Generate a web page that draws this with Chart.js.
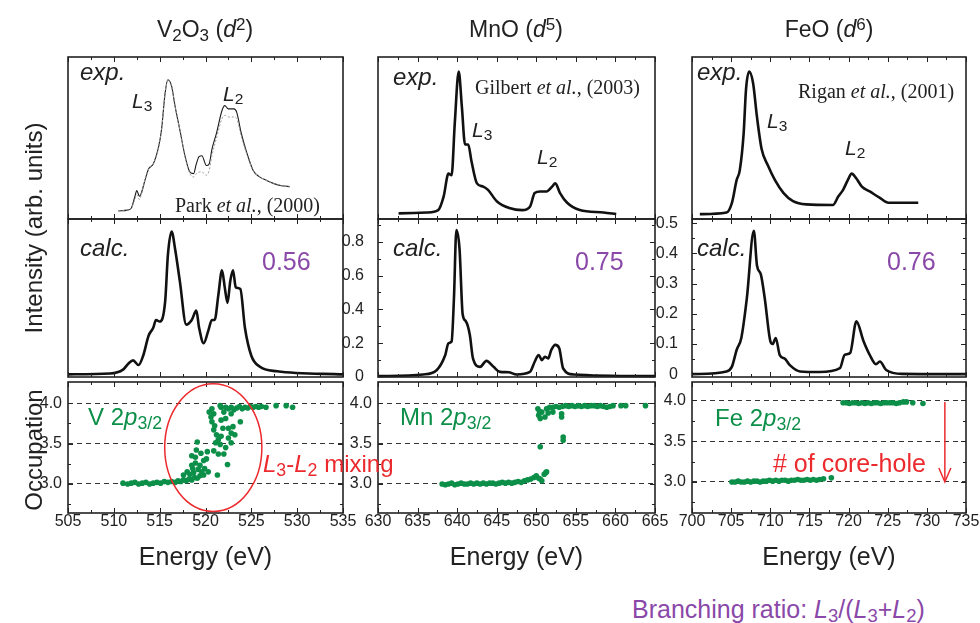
<!DOCTYPE html>
<html>
<head>
<meta charset="utf-8">
<title>L-edge XAS: V2O3, MnO, FeO</title>
<script src="https://cdn.jsdelivr.net/npm/chart.js@4.4.0/dist/chart.umd.min.js"></script>
<style>
  body { margin: 0; background: #fff; }
  #stage { position: relative; width: 980px; height: 623px; overflow: hidden;
           font-family: "Liberation Sans", Arial, sans-serif; color: #222; }
  #stage canvas { position: absolute; }
  .lbl { position: absolute; white-space: nowrap; line-height: 1; }
  .lbl sub, .lbl sup { font-size: 74%; line-height: 0; }
  .lbl sub { vertical-align: -0.22em; }
  .lbl sup { vertical-align: 0.42em; }
  .ref { font-family: "Liberation Serif", "Times New Roman", serif; }
</style>
</head>
<body>
<div id="stage"></div>
<script>
// ---- data ----

// V2O3 experiment (Park et al.), arbitrary units
const v2o3ExpE = [510.5, 511.5, 511.9, 512.3, 512.5, 512.8, 513.0, 513.4, 513.8, 514.3, 514.9, 515.2, 515.6, 515.9, 516.3, 516.7, 517.2, 517.8, 518.3, 518.7, 519.0, 519.3, 519.6, 520.1, 520.4, 520.7, 521.2, 521.8, 522.1, 522.5, 522.9, 523.1, 523.4, 523.9, 524.5, 525.2, 525.9, 526.6, 527.4, 528.3, 529.2];
const v2o3ExpI = [0.05, 0.055, 0.066, 0.14, 0.175, 0.14, 0.16, 0.24, 0.31, 0.34, 0.45, 0.55, 0.78, 0.86, 0.82, 0.69, 0.55, 0.38, 0.29, 0.28, 0.34, 0.385, 0.39, 0.33, 0.34, 0.43, 0.53, 0.67, 0.70, 0.68, 0.68, 0.68, 0.66, 0.53, 0.41, 0.30, 0.26, 0.24, 0.22, 0.205, 0.20];
const v2o3ExpI2 = [0.05, 0.055, 0.066, 0.12, 0.15, 0.12, 0.15, 0.24, 0.31, 0.34, 0.45, 0.55, 0.78, 0.86, 0.82, 0.69, 0.55, 0.38, 0.28, 0.26, 0.28, 0.29, 0.29, 0.27, 0.30, 0.39, 0.50, 0.62, 0.64, 0.63, 0.63, 0.63, 0.62, 0.51, 0.40, 0.30, 0.26, 0.24, 0.22, 0.205, 0.20];
// V2O3 calculation
const v2o3CalcE = [505.0, 509.6, 511.0, 511.6, 512.1, 512.7, 513.2, 513.8, 514.3, 514.6, 515.0, 515.6, 515.9, 516.3, 516.7, 517.2, 517.9, 518.5, 519.0, 519.3, 519.8, 520.3, 520.7, 521.0, 521.4, 521.8, 522.1, 522.4, 522.7, 523.0, 523.3, 523.8, 524.3, 525.0, 525.9, 527.8, 535.0];
const v2o3CalcI = [0, 0.005, 0.03, 0.07, 0.09, 0.06, 0.12, 0.25, 0.30, 0.35, 0.34, 0.47, 0.77, 0.92, 0.80, 0.60, 0.32, 0.35, 0.41, 0.30, 0.20, 0.28, 0.35, 0.35, 0.51, 0.67, 0.56, 0.46, 0.60, 0.67, 0.56, 0.55, 0.30, 0.12, 0.05, 0.02, 0];
// V 2p3/2 occupation
const v2o3OccE = [511.0, 511.5, 511.9, 512.3, 512.7, 513.1, 513.5, 513.9, 514.3, 514.7, 515.1, 515.5, 515.9, 516.3, 516.7, 517.0, 517.3, 517.6, 517.9, 518.2, 518.5, 518.8, 519.1, 519.4,
  517.6, 518.0, 518.3, 518.7, 519.2, 519.6, 518.9, 518.5, 518.6, 518.9, 518.5, 519.0, 519.1, 519.4, 519.8, 519.9, 520.1, 520.3, 519.8, 521.3, 519.5, 520.2,
  520.4, 520.7, 520.9, 520.7, 520.9, 521.2, 521.4, 521.1, 521.6, 520.9, 521.4, 521.7, 521.9, 521.7, 522.0, 522.2, 522.5, 522.5, 522.4, 522.0, 522.8, 523.0, 523.2, 522.8, 521.7, 521.6, 522.8, 523.8, 520.6, 521.0, 522.2,
  522.2, 522.5, 522.8, 523.1, 523.4, 523.7, 524.0, 524.3, 524.6, 524.9, 525.2, 525.5, 525.8, 526.1, 526.6, 527.7, 528.8, 529.5];
const v2o3OccN = [3.01, 3.00, 3.01, 3.02, 3.00, 3.01, 3.02, 3.00, 3.01, 3.02, 3.01, 3.03, 3.02, 3.03, 3.02, 3.04, 3.03, 3.05, 3.04, 3.06, 3.05, 3.08, 3.07, 3.10,
  3.11, 3.15, 3.12, 3.14, 3.18, 3.15, 3.26, 3.23, 3.19, 3.33, 3.35, 3.42, 3.52, 3.23, 3.29, 3.19, 3.31, 3.15, 3.11, 3.11, 3.38, 3.40,
  3.89, 3.93, 3.87, 3.77, 3.67, 3.61, 3.55, 3.51, 3.49, 3.41, 3.37, 3.59, 3.69, 3.79, 3.89, 3.81, 3.69, 3.57, 3.24, 3.37, 3.63, 3.71, 3.61, 3.51, 3.95, 3.97, 3.87, 3.77, 3.83, 3.72, 3.45,
  3.95, 3.93, 3.95, 3.92, 3.94, 3.96, 3.93, 3.95, 3.94, 3.96, 3.95, 3.96, 3.95, 3.96, 3.95, 3.97, 3.97, 3.95];

// MnO experiment (Gilbert et al.)
const mnoExpE = [632.6, 636.2, 637.6, 638.3, 638.9, 639.3, 639.7, 640.2, 640.6, 641.0, 641.4, 641.8, 642.5, 643.3, 643.9, 645.0, 646.7, 648.2, 649.2, 649.8, 650.5, 651.3, 652.0, 652.4, 653.0, 653.9, 655.5, 658.5, 660.1];
const mnoExpI = [0.035, 0.04, 0.055, 0.14, 0.28, 0.27, 0.59, 0.91, 0.69, 0.46, 0.46, 0.36, 0.22, 0.20, 0.18, 0.11, 0.066, 0.055, 0.076, 0.16, 0.17, 0.17, 0.20, 0.22, 0.16, 0.10, 0.055, 0.04, 0.03];
// MnO calculation
const mnoCalcE = [630.0, 635.7, 637.4, 638.5, 638.9, 639.3, 639.6, 639.9, 640.3, 640.7, 641.1, 641.6, 642.0, 642.9, 643.7, 644.6, 645.4, 646.5, 647.5, 649.2, 649.8, 650.3, 650.7, 651.1, 651.5, 651.9, 652.4, 652.9, 653.4, 654.7, 665.0];
const mnoCalcI = [0.005, 0.015, 0.04, 0.13, 0.20, 0.21, 0.47, 0.87, 0.76, 0.37, 0.33, 0.25, 0.11, 0.06, 0.095, 0.06, 0.03, 0.028, 0.015, 0.03, 0.09, 0.13, 0.10, 0.12, 0.11, 0.16, 0.19, 0.17, 0.05, 0.015, 0.005];
// Mn 2p3/2 occupation
const mnoOccE = [638.1, 638.5, 638.9, 639.3, 639.7, 640.1, 640.5, 640.9, 641.3, 641.7, 642.1, 642.5, 642.9, 643.3, 643.7, 644.1, 644.5, 644.9, 645.3, 645.7, 646.1, 646.5, 646.9, 647.3, 647.7, 648.1, 648.5, 648.9, 649.3, 649.7, 650.0, 650.3, 650.5, 650.7, 651.0, 651.2, 651.3,
  650.5, 650.2, 650.3, 650.5, 650.7, 651.1, 651.3, 651.7, 652.1, 653.2, 653.2, 653.4, 653.4, 650.4, 651.5,
  652.1, 652.5, 652.9, 653.3, 653.7, 654.1, 654.5, 654.9, 655.3, 655.7, 656.1, 656.5, 656.9, 657.3, 657.7, 658.1, 658.5, 658.9, 659.3, 659.7, 660.7, 661.3, 663.8];
const mnoOccN = [3.00, 2.99, 3.00, 3.01, 2.99, 3.00, 3.01, 3.00, 3.00, 3.01, 3.00, 3.01, 3.00, 3.01, 3.00, 3.01, 3.01, 3.00, 3.01, 3.02, 3.01, 3.02, 3.01, 3.02, 3.03, 3.02, 3.04, 3.05, 3.06, 3.08, 3.10, 3.07, 3.06, 3.04, 3.12, 3.14, 3.15,
  3.46, 3.93, 3.85, 3.81, 3.89, 3.83, 3.93, 3.95, 3.89, 3.87, 3.83, 3.58, 3.54, 3.90, 3.88,
  3.95, 3.96, 3.95, 3.96, 3.97, 3.96, 3.97, 3.96, 3.97, 3.96, 3.97, 3.96, 3.97, 3.97, 3.96, 3.97, 3.96, 3.95, 3.96, 3.97, 3.97, 3.97, 3.97];

// FeO experiment (Rigan et al.)
const feoExpE = [701.0, 704.4, 705.1, 705.7, 706.1, 706.6, 706.9, 707.3, 707.8, 708.3, 708.9, 709.7, 710.6, 711.7, 712.9, 714.6, 718.0, 718.7, 719.3, 719.9, 720.4, 721.0, 721.7, 722.7, 724.0, 725.1, 726.6, 728.9];
const feoExpI = [0.03, 0.04, 0.10, 0.24, 0.30, 0.53, 0.80, 0.91, 0.84, 0.63, 0.43, 0.33, 0.24, 0.16, 0.11, 0.09, 0.086, 0.14, 0.18, 0.24, 0.28, 0.25, 0.20, 0.17, 0.13, 0.10, 0.10, 0.10];
// FeO calculation
const feoCalcE = [700.0, 704.4, 705.1, 705.7, 706.3, 707.0, 707.9, 708.3, 708.8, 709.3, 710.0, 710.3, 710.7, 711.2, 711.9, 712.5, 713.8, 716.3, 718.9, 719.5, 720.2, 721.0, 721.9, 722.7, 723.5, 724.0, 724.8, 726.9, 735.0];
const feoCalcI = [0, 0.009, 0.025, 0.08, 0.12, 0.25, 0.475, 0.36, 0.33, 0.25, 0.11, 0.10, 0.12, 0.064, 0.05, 0.03, 0.009, 0.007, 0.02, 0.064, 0.07, 0.175, 0.11, 0.064, 0.033, 0.042, 0.014, 0.001, 0];
// Fe 2p3/2 occupation
const feoOccE = [705.1, 705.5, 705.9, 706.3, 706.7, 707.1, 707.5, 707.9, 708.3, 708.7, 709.1, 709.5, 709.9, 710.3, 710.7, 711.1, 711.5, 711.9, 712.3, 712.7, 713.1, 713.5, 713.9, 714.3, 714.7, 715.1, 715.5, 715.9, 716.3, 716.8, 717.8,
  719.3, 719.7, 720.1, 720.5, 720.9, 721.3, 721.7, 722.1, 722.5, 722.9, 723.3, 723.7, 724.1, 724.5, 724.9, 725.3, 725.7, 726.1, 726.5, 727.0, 727.4, 728.2, 729.5];
const feoOccN = [3.00, 3.00, 3.01, 3.00, 3.00, 3.01, 3.00, 3.01, 3.01, 3.00, 3.01, 3.01, 3.02, 3.01, 3.02, 3.01, 3.02, 3.02, 3.01, 3.02, 3.02, 3.03, 3.02, 3.02, 3.03, 3.02, 3.03, 3.02, 3.03, 3.04, 3.05,
  3.97, 3.97, 3.96, 3.97, 3.97, 3.96, 3.97, 3.96, 3.97, 3.96, 3.97, 3.97, 3.96, 3.97, 3.97, 3.97, 3.97, 3.96, 3.97, 3.98, 3.98, 3.97, 3.96];

const ratios = ['0.56', '0.75', '0.76'];

// ---- look ----
const FONT = '"Liberation Sans", Arial, sans-serif';
const INK = '#222';
const GREEN = '#0c8f48';
const PURPLE = '#8a48a8';
const RED = '#ec2a2e';

Chart.defaults.font.family = FONT;
Chart.defaults.color = INK;

const AXIS_W = 50;   // width kept for the left tick labels
const PAD_R = 20;
const CANVAS_TOP = 37;
const CANVAS_H = 538;

const toXY = (xs, ys) => xs.map((x, i) => ({x: x, y: ys[i]}));

// draws the boxed panels, inward ticks and annotations
const panelFrame = {
  id: 'panelFrame',
  afterDraw(chart, args, opts) {
    const ctx = chart.ctx;
    const xs = chart.scales.x;
    const seg = (x1, y1, x2, y2) => { ctx.beginPath(); ctx.moveTo(x1, y1); ctx.lineTo(x2, y2); ctx.stroke(); };
    const isMajor = (v, step) => Math.abs(v / step - Math.round(v / step)) < 1e-6;
    ctx.save();
    ctx.strokeStyle = INK;
    opts.panels.forEach(p => {
      const s = chart.scales[p.id];
      const top = s.top + (p.insetTop || 0);
      const bottom = s.bottom - (p.insetBottom || 0);
      ctx.lineWidth = 1;
      for (let v = xs.min; v <= xs.max + 1e-9; v += 2.5) {
        const px = Math.round(xs.getPixelForValue(v)) + 0.5;
        const len = isMajor(v, 5) ? 5 : 3;
        seg(px, top, px, top + len);
        seg(px, bottom, px, bottom - len);
      }
      if (p.minor) {
        const start = Math.ceil(s.min / p.minor - 1e-9) * p.minor;
        for (let v = start; v <= s.max + 1e-9; v += p.minor) {
          const py = Math.round(s.getPixelForValue(v)) + 0.5;
          if (py < top + 2 || py > bottom - 2) continue;
          const len = isMajor(v, p.major) ? 5 : 3;
          seg(xs.left, py, xs.left + len, py);
          seg(xs.right, py, xs.right - len, py);
        }
      }
      ctx.lineWidth = 1.6;
      ctx.strokeRect(xs.left, top, xs.right - xs.left, bottom - top);
    });
    ctx.strokeStyle = RED;
    ctx.lineWidth = 1.5;
    (opts.ellipses || []).forEach(el => {
      const s = chart.scales[el.y];
      const cx = xs.getPixelForValue(el.cx), cy = s.getPixelForValue(el.cy);
      const rx = Math.abs(xs.getPixelForValue(el.cx + el.rx) - cx);
      const ry = Math.abs(s.getPixelForValue(el.cy + el.ry) - cy);
      ctx.beginPath();
      ctx.ellipse(cx, cy, rx, ry, 0, 0, Math.PI * 2);
      ctx.stroke();
    });
    (opts.arrows || []).forEach(a => {
      const s = chart.scales[a.y];
      const px = xs.getPixelForValue(a.x);
      const y1 = s.getPixelForValue(a.from), y2 = s.getPixelForValue(a.to);
      seg(px, y1, px, y2);
      ctx.beginPath();
      ctx.moveTo(px - 6, y2 - 14);
      ctx.lineTo(px, y2);
      ctx.lineTo(px + 6, y2 - 14);
      ctx.stroke();
    });
    ctx.restore();
  }
};

function tickFont() { return {size: 16, family: FONT}; }

function buildColumn(col) {
  const canvas = document.createElement('canvas');
  canvas.width = col.panel[1] - col.panel[0] + AXIS_W + PAD_R;
  canvas.height = CANVAS_H;
  canvas.style.left = (col.panel[0] - AXIS_W) + 'px';
  canvas.style.top = CANVAS_TOP + 'px';
  document.getElementById('stage').appendChild(canvas);

  const fixW = s => { s.width = AXIS_W; };
  const datasets = col.exp.map(e => ({
    type: 'line', yAxisID: 'yExp', data: toXY(e.x, e.y),
    borderColor: e.color, borderWidth: e.width, borderDash: e.dash || [],
    pointRadius: 0, cubicInterpolationMode: 'monotone', fill: false
  }));
  datasets.push({
    type: 'line', yAxisID: 'yCalc', data: toXY(col.calcE, col.calcI),
    borderColor: '#111', borderWidth: 2.6, pointRadius: 0,
    cubicInterpolationMode: 'monotone', fill: false
  });
  datasets.push({
    type: 'scatter', yAxisID: 'yOcc', data: toXY(col.occE, col.occN),
    backgroundColor: GREEN, borderWidth: 0, pointRadius: 2.8, pointHoverRadius: 0
  });

  return new Chart(canvas, {
    type: 'line',
    data: {datasets: datasets},
    options: {
      responsive: false,
      animation: false,
      events: [],
      layout: {padding: {top: 20, right: PAD_R, bottom: 0, left: 0}},
      plugins: {
        legend: {display: false},
        tooltip: {enabled: false},
        panelFrame: {
          panels: [
            {id: 'yExp'},
            {id: 'yCalc', insetBottom: 2, minor: col.calcMinor, major: col.calcStep},
            {id: 'yOcc', insetTop: 3, minor: 0.25, major: 0.5}
          ],
          ellipses: col.ellipses,
          arrows: col.arrows
        }
      },
      scales: {
        x: {
          type: 'linear', min: col.xRange[0], max: col.xRange[1],
          ticks: {stepSize: 5, padding: -9, maxRotation: 0, autoSkip: false, font: tickFont(), color: INK},
          grid: {display: false}, border: {display: false},
          title: {display: true, text: 'Energy (eV)', font: {size: 25, family: FONT}, color: INK, padding: {top: 0, bottom: 2}},
          afterFit: s => { s.height = 62; }
        },
        yOcc: {
          type: 'linear', position: 'left', stack: 'panels', stackWeight: 134,
          min: col.occRange[0], max: col.occRange[1],
          ticks: {stepSize: 0.5, includeBounds: false, autoSkip: false, padding: 6, font: tickFont(), color: INK,
                  callback: v => v.toFixed(1)},
          grid: {color: '#333', lineWidth: 1, drawTicks: false},
          border: {display: false, dash: [5, 4]},
          afterFit: fixW
        },
        yCalc: {
          type: 'linear', position: 'left', stack: 'panels', stackWeight: 160,
          min: col.calcRange[0], max: col.calcRange[1],
          ticks: {display: col.calcLabels, stepSize: col.calcStep || 0.2, includeBounds: false, autoSkip: false,
                  padding: 6, font: tickFont(), color: INK},
          grid: {display: false}, border: {display: false},
          afterFit: fixW
        },
        yExp: {
          type: 'linear', position: 'left', stack: 'panels', stackWeight: 162,
          min: 0, max: 1,
          ticks: {display: false}, grid: {display: false}, border: {display: false},
          afterFit: fixW
        }
      }
    },
    plugins: [panelFrame]
  });
}

const columns = [
  {
    panel: [68, 343], xRange: [505, 535],
    exp: [
      {x: v2o3ExpE, y: v2o3ExpI2, color: '#9a9a9a', width: 1, dash: [2, 2]},
      {x: v2o3ExpE, y: v2o3ExpI, color: '#1a1a1a', width: 1.1}
    ],
    calcE: v2o3CalcE, calcI: v2o3CalcI, calcRange: [-0.03, 1.0], calcLabels: false,
    occE: v2o3OccE, occN: v2o3OccN, occRange: [2.64, 4.3],
    ellipses: [{y: 'yOcc', cx: 520.85, cy: 3.45, rx: 5.3, ry: 0.79}]
  },
  {
    panel: [378, 655], xRange: [630, 665],
    exp: [{x: mnoExpE, y: mnoExpI, color: '#111', width: 2.6}],
    calcE: mnoCalcE, calcI: mnoCalcI, calcRange: [-0.012, 0.935], calcLabels: true, calcStep: 0.2, calcMinor: 0.1,
    occE: mnoOccE, occN: mnoOccN, occRange: [2.64, 4.3]
  },
  {
    panel: [692, 966], xRange: [700, 735],
    exp: [{x: feoExpE, y: feoExpI, color: '#111', width: 2.6}],
    calcE: feoCalcE, calcI: feoCalcI, calcRange: [-0.016, 0.514], calcLabels: true, calcStep: 0.1, calcMinor: 0.05,
    occE: feoOccE, occN: feoOccN, occRange: [2.62, 4.26],
    arrows: [{y: 'yOcc', x: 732.3, from: 3.98, to: 3.0}]
  }
];

columns.forEach(buildColumn);

// ---- text placed over the charts ----
const texts = [
  {h: 'V<sub>2</sub>O<sub>3</sub> (<i>d</i><sup>2</sup>)', x: 205, b: 37, s: 23, c: true},
  {h: 'MnO (<i>d</i><sup>5</sup>)', x: 516, b: 37, s: 23, c: true},
  {h: 'FeO (<i>d</i><sup>6</sup>)', x: 829, b: 37, s: 23, c: true},
  {h: '<i>exp.</i>', x: 80, b: 80, s: 24},
  {h: '<i>exp.</i>', x: 393, b: 85, s: 24},
  {h: '<i>exp.</i>', x: 697, b: 80, s: 24},
  {h: '<i>L</i><sub>3</sub>', x: 132, b: 108, s: 21},
  {h: '<i>L</i><sub>2</sub>', x: 223, b: 101, s: 21},
  {h: '<i>L</i><sub>3</sub>', x: 472, b: 137, s: 21},
  {h: '<i>L</i><sub>2</sub>', x: 537, b: 164, s: 21},
  {h: '<i>L</i><sub>3</sub>', x: 767, b: 128, s: 21},
  {h: '<i>L</i><sub>2</sub>', x: 845, b: 155, s: 21},
  {h: 'Park <i>et al.</i>, (2000)', x: 175, b: 212, s: 20, cls: 'ref'},
  {h: 'Gilbert <i>et al.</i>, (2003)', x: 475, b: 94, s: 20, cls: 'ref'},
  {h: 'Rigan <i>et al.</i>, (2001)', x: 798, b: 98, s: 20, cls: 'ref'},
  {h: '<i>calc.</i>', x: 80, b: 256, s: 24},
  {h: '<i>calc.</i>', x: 393, b: 256, s: 24},
  {h: '<i>calc.</i>', x: 697, b: 256, s: 24},
  {h: ratios[0], x: 262, b: 270, s: 25, col: PURPLE},
  {h: ratios[1], x: 575, b: 270, s: 25, col: PURPLE},
  {h: ratios[2], x: 887, b: 270, s: 25, col: PURPLE},
  {h: 'V 2<i>p</i><sub>3/2</sub>', x: 88, b: 425, s: 24, col: GREEN},
  {h: 'Mn 2<i>p</i><sub>3/2</sub>', x: 400, b: 425, s: 24, col: GREEN},
  {h: 'Fe 2<i>p</i><sub>3/2</sub>', x: 715, b: 426, s: 24, col: GREEN},
  {h: '<i>L</i><sub>3</sub>-<i>L</i><sub>2</sub> mixing', x: 263, b: 472, s: 24, col: RED},
  {h: '# of core-hole', x: 773, b: 472, s: 25, col: RED},
  {h: 'Branching ratio: <i>L</i><sub>3</sub>/(<i>L</i><sub>3</sub>+<i>L</i><sub>2</sub>)', x: 632, b: 618, s: 25, col: PURPLE}
];

const stage = document.getElementById('stage');
texts.forEach(t => {
  const d = document.createElement('div');
  d.className = 'lbl' + (t.cls ? ' ' + t.cls : '');
  d.innerHTML = t.h;
  d.style.fontSize = t.s + 'px';
  d.style.left = t.x + 'px';
  d.style.top = (t.b - 0.846 * t.s) + 'px';
  if (t.col) d.style.color = t.col;
  if (t.c) d.style.transform = 'translateX(-50%)';
  stage.appendChild(d);
});

// rotated y titles
[['Intensity (arb. units)', 34, 228], ['Occupation', 34, 450]].forEach(([txt, cx, cy]) => {
  const d = document.createElement('div');
  d.className = 'lbl';
  d.textContent = txt;
  d.style.fontSize = '24px';
  d.style.left = cx + 'px';
  d.style.top = cy + 'px';
  d.style.transform = 'translate(-50%, -50%) rotate(-90deg)';
  stage.appendChild(d);
});
</script>
</body>
</html>
